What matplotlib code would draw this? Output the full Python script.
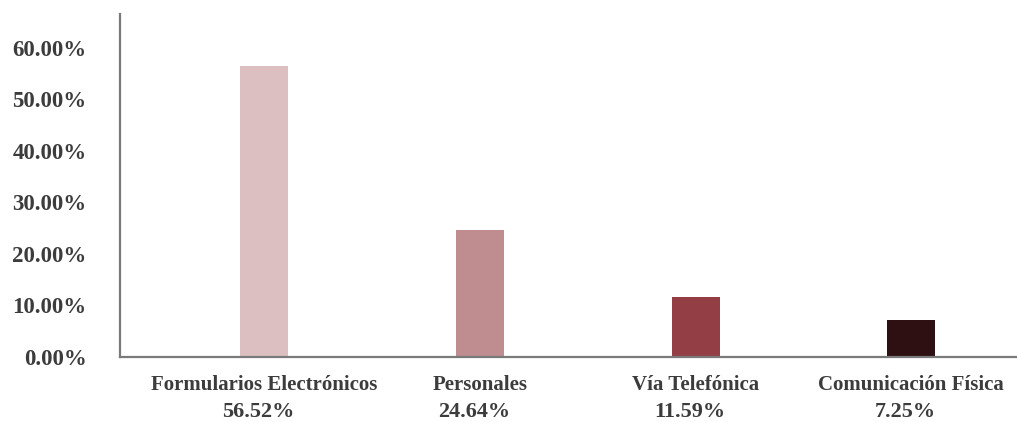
import matplotlib
matplotlib.use("Agg")
import matplotlib.pyplot as plt

# data
categories = ["Formularios Electrónicos", "Personales", "Vía Telefónica", "Comunicación Física"]
values = [56.52, 24.64, 11.59, 7.25]
colors = ["#dbbfc1", "#bf8c8f", "#933d45", "#2e1013"]
yticks = [0, 10, 20, 30, 40, 50, 60]

text_color = "#3c3c3c"
plt.rcParams["font.family"] = ["Liberation Serif", "DejaVu Serif"]
plt.rcParams["font.weight"] = "bold"

fig = plt.figure(figsize=(10.17, 4.22), dpi=100)
ax = fig.add_axes([0.118, 0.154, 0.882, 0.813])

x = list(range(len(categories)))
ax.bar(x, values, width=0.222, color=colors, zorder=1)

ax.set_xlim(-0.668, 3.49)
ax.set_ylim(0, 66.6)

ax.set_yticks(yticks)
ax.set_yticklabels([f"{v:.2f}%" for v in yticks], fontsize=16.5, color=text_color)
ax.set_xticks(x)
ax.set_xticklabels(categories, fontsize=15, color=text_color)
ax.tick_params(axis="y", length=0, pad=24)
ax.tick_params(axis="x", length=0, pad=13)

for xi, v in zip(x, values):
    ax.annotate(f"{v:.2f}%", xy=(xi, 0), xycoords=("data", "axes fraction"),
                xytext=(-4, -39.5), textcoords="offset points",
                ha="center", va="center", fontsize=16, color=text_color)

for side in ["top", "right"]:
    ax.spines[side].set_visible(False)
for side in ["left", "bottom"]:
    ax.spines[side].set_color("#7a7a7a")
    ax.spines[side].set_linewidth(1.6)
    ax.spines[side].set_zorder(3)

fig.savefig("out.png", dpi=100)
